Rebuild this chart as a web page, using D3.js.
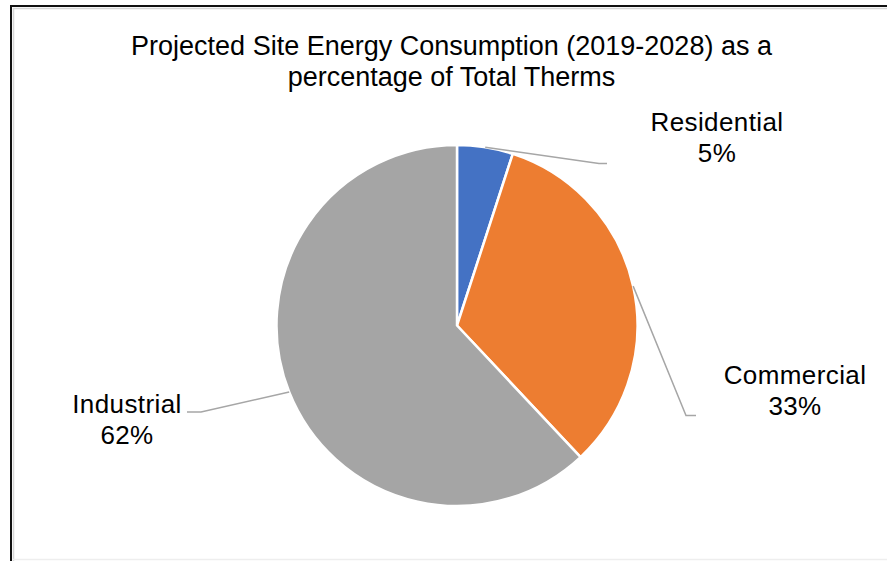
<!DOCTYPE html>
<html>
<head>
<meta charset="utf-8">
<script src="https://cdn.jsdelivr.net/npm/d3@7"></script>
<style>
  html, body { margin: 0; padding: 0; background: #fff; }
  svg { display: block; }
  text { font-family: "Liberation Sans", Arial, sans-serif; fill: #000; }
</style>
</head>
<body>
<div id="chart"></div>
<script>
const categories = ['Residential', 'Commercial', 'Industrial'];
const shares = [5, 33, 62];
const colors = ['#4472C4', '#ED7D31', '#A5A5A5'];
const titleLines = ['Projected Site Energy Consumption (2019-2028) as a', 'percentage of Total Therms'];

const width = 887, height = 561;
const cx = 457, cy = 325.5, radius = 180.5;

// where each label sits relative to the pie centre, and where its leader line ends
const labelLayout = [
  {dx: 260, dy: -194.5, lx: 150, ly: -162, elbow: -8},
  {dx: 338, dy: 58.5, lx: 239, ly: 90, elbow: -10},
  {dx: -330, dy: 87.5, lx: -270, ly: 86.5, elbow: 14}
];

const svg = d3.select('#chart').append('svg')
    .attr('width', width)
    .attr('height', height);

// frame
svg.append('path')
    .attr('d', `M${width},6 H11 V${height}`)
    .attr('fill', 'none')
    .attr('stroke', '#111')
    .attr('stroke-width', 2);
svg.append('path')
    .attr('d', `M${width},8.5 H13.5 V${height}`)
    .attr('fill', 'none')
    .attr('stroke', '#d6d6d6')
    .attr('stroke-width', 1.5);
svg.append('line')
    .attr('x1', 13).attr('x2', width)
    .attr('y1', 559.5).attr('y2', 559.5)
    .attr('stroke', '#eeeeee')
    .attr('stroke-width', 1.5);

svg.append('text')
    .attr('x', 451.5)
    .attr('y', 55)
    .attr('text-anchor', 'middle')
    .style('font-size', '27px')
  .selectAll('tspan')
    .data(titleLines)
  .enter().append('tspan')
    .attr('x', 451.5)
    .attr('dy', (d, i) => i === 0 ? 0 : 31)
    .text(d => d);

const pie = d3.pie().sort(null).value(d => d.value);
const arcs = pie(categories.map((c, i) => ({name: c, value: shares[i], color: colors[i]})));

const arc = d3.arc().innerRadius(0).outerRadius(radius);

const g = svg.append('g')
    .attr('transform', `translate(${cx},${cy})`);

g.selectAll('.slice')
    .data(arcs)
  .enter().append('path')
    .attr('class', 'slice')
    .attr('d', arc)
    .attr('fill', d => d.data.color)
    .attr('stroke', '#fff')
    .attr('stroke-width', 2.5)
    .attr('stroke-linejoin', 'round');

// leader lines from the arc edge at the slice middle to the label
g.selectAll('.leader')
    .data(arcs)
  .enter().append('polyline')
    .attr('class', 'leader')
    .attr('fill', 'none')
    .attr('stroke', '#a6a6a6')
    .attr('stroke-width', 1.5)
    .attr('points', (d, i) => {
        const a = (d.startAngle + d.endAngle) / 2;
        const p0 = [radius * Math.sin(a), -radius * Math.cos(a)];
        const L = labelLayout[i];
        return [p0, [L.lx + L.elbow, L.ly], [L.lx, L.ly]].map(p => p.join(',')).join(' ');
    });

const labels = g.selectAll('.label')
    .data(arcs)
  .enter().append('text')
    .attr('class', 'label')
    .attr('text-anchor', 'middle')
    .style('font-size', '26px')
    .style('letter-spacing', '0.4px')
    .attr('transform', (d, i) => `translate(${labelLayout[i].dx},${labelLayout[i].dy})`);

labels.append('tspan')
    .attr('x', 0)
    .text(d => d.data.name);
labels.append('tspan')
    .attr('x', 0)
    .attr('dy', 31)
    .text(d => d3.format('.0f')(d.data.value) + '%');
</script>
</body>
</html>
